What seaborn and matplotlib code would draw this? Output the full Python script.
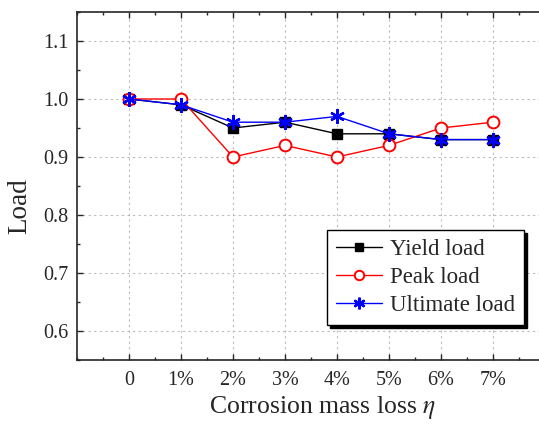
import matplotlib
matplotlib.use("Agg")
import matplotlib.pyplot as plt
import seaborn as sns
import pandas as pd
import numpy as np
from matplotlib.ticker import MultipleLocator, FormatStrFormatter

categories = ["0", "1%", "2%", "3%", "4%", "5%", "6%", "7%"]
yield_load = [1.00, 0.99, 0.95, 0.96, 0.94, 0.94, 0.93, 0.93]
peak_load = [1.00, 1.00, 0.90, 0.92, 0.90, 0.92, 0.95, 0.96]
ultimate_load = [1.00, 0.99, 0.96, 0.96, 0.97, 0.94, 0.93, 0.93]

sns.set_style("ticks")
plt.rcParams["font.family"] = ["Liberation Serif", "DejaVu Serif"]
plt.rcParams["mathtext.fontset"] = "stix"
plt.rcParams["xtick.direction"] = "in"
plt.rcParams["ytick.direction"] = "in"

x = np.arange(len(categories))
df = pd.DataFrame({
    "x": np.tile(x, 3),
    "Load": yield_load + peak_load + ultimate_load,
    "Series": ["Yield load"] * 8 + ["Peak load"] * 8 + ["Ultimate load"] * 8,
})

fig = plt.figure(figsize=(5.39, 4.24), dpi=100)
ax_w_px = 503
ax = fig.add_axes([77 / 539, 1 - 360 / 424, ax_w_px / 539, 348 / 424])

styles = {
    "Yield load": dict(color="black", marker="s", mfc="black", mec="black", ms=7.5, mew=1),
    "Peak load": dict(color="red", marker="o", mfc="white", mec="red", ms=8.5, mew=1.4),
    "Ultimate load": dict(color="blue", marker=(6, 2, 0), mfc="blue", mec="blue", ms=10.5, mew=1.7),
}
for name in ["Yield load", "Peak load", "Ultimate load"]:
    sub = df[df["Series"] == name]
    st = styles[name]
    sns.lineplot(data=sub, x="x", y="Load", ax=ax, color=st["color"], lw=1,
                 marker=st["marker"], markersize=st["ms"], markerfacecolor=st["mfc"],
                 markeredgecolor=st["mec"], markeredgewidth=st["mew"], label=name)

ax.set_xlim(-1, -1 + ax_w_px / 52.0)
ax.set_ylim(0.55, 1.15)
ax.set_xticks(x)
ax.set_xticklabels(categories)
ax.xaxis.set_minor_locator(MultipleLocator(0.5))
ax.yaxis.set_major_locator(MultipleLocator(0.1))
ax.yaxis.set_minor_locator(MultipleLocator(0.05))
ax.yaxis.set_major_formatter(FormatStrFormatter("%.1f"))
ax.tick_params(which="major", length=4, width=1, labelsize=14.5, top=True, right=False)
ax.tick_params(which="minor", length=2.5, width=1, top=True, right=False)
ax.tick_params(axis="x", which="major", pad=8)
ax.tick_params(axis="y", which="major", pad=6)
ax.grid(True, which="major", ls=(0, (2, 3)), color="#bbbbbb", lw=0.8)
for s in ax.spines.values():
    s.set_linewidth(1.2)
ax.set_xlabel(r"Corrosion mass loss $\eta$", fontsize=18.5)
ax.set_ylabel("Load", fontsize=19.5)
ax.xaxis.set_label_coords((323 - 77) / ax_w_px, (360 - 394) / 348)
ax.yaxis.set_label_coords((32 - 77) / ax_w_px, (360 - 206) / 348)

leg = ax.legend(loc="lower right", bbox_to_anchor=((524 - 77) / ax_w_px, (360 - 325) / 348),
                fontsize=16.5, frameon=True, fancybox=False,
                shadow={"color": "black", "alpha": 1, "ox": 2.5, "oy": -2.5},
                edgecolor="black", framealpha=1, handlelength=2.0, handletextpad=0.35,
                borderpad=0.4, labelspacing=0.3, borderaxespad=0)
leg.get_frame().set_linewidth(1)
for h in leg.legend_handles:
    h.set_markersize(h.get_markersize() * 0.8)

fig.savefig("out.png", dpi=100)
